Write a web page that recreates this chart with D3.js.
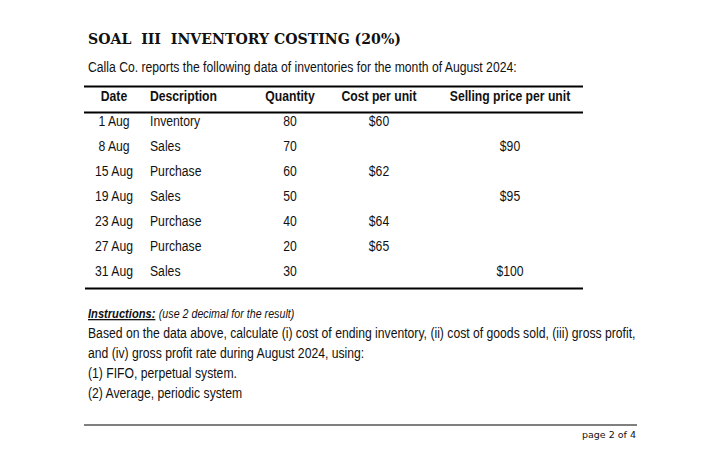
<!DOCTYPE html>
<html>
<head>
<meta charset="utf-8">
<script src="https://cdn.jsdelivr.net/npm/d3@7"></script>
<style>
  body { margin: 0; background: #fff; }
  svg { display: block; }
  .body { font-family: "Liberation Sans", Arial, sans-serif; fill: #111; }
</style>
</head>
<body>
<div id="page"></div>
<script>
// table data
const headers = ["Date", "Description", "Quantity", "Cost per unit", "Selling price per unit"];
const dates = ["1 Aug", "8 Aug", "15 Aug", "19 Aug", "23 Aug", "27 Aug", "31 Aug"];
const descriptions = ["Inventory", "Sales", "Purchase", "Sales", "Purchase", "Purchase", "Sales"];
const quantities = [80, 70, 60, 50, 40, 20, 30];
const costs = [60, null, 62, null, 64, 65, null];
const prices = [null, 90, null, 95, null, null, 100];

// page text
const title = "SOAL  III  INVENTORY COSTING (20%)";
const intro = "Calla Co. reports the following data of inventories for the month of August 2024:";
const instrHead = "Instructions:";
const instrNote = "(use 2 decimal for the result)";
const instrLines = [
    "Based on the data above, calculate (i) cost of ending inventory, (ii) cost of goods sold, (iii) gross profit,",
    "and (iv) gross profit rate during August 2024, using:",
    "(1) FIFO, perpetual system.",
    "(2) Average, periodic system"
];
const footer = "page 2 of 4";

const W = 720, H = 458;
const NARROW = 0.87; // no Arial Narrow here, so squeeze Liberation Sans
const FS = 14;

const svg = d3.select("#page").append("svg")
    .attr("width", W)
    .attr("height", H);

svg.append("rect").attr("width", W).attr("height", H).attr("fill", "#fff");

svg.append("text")
    .attr("x", 88).attr("y", 44)
    .attr("font-family", "'DejaVu Serif', 'Liberation Serif', serif")
    .attr("font-weight", "bold")
    .attr("font-size", 15.5)
    .attr("textLength", 313)
    .attr("lengthAdjust", "spacingAndGlyphs")
    .style("white-space", "pre")
    .attr("fill", "#111")
    .text(title);

svg.append("text")
    .attr("class", "body cond")
    .attr("x", 88).attr("y", 72)
    .attr("font-size", FS)
    .text(intro);

// columns
const cols = ["date", "desc", "qty", "cost", "price"];
const colX = d3.scaleOrdinal().domain(cols).range([114, 150, 290, 379, 510]);
const colAnchor = d3.scaleOrdinal().domain(cols).range(["middle", "start", "middle", "middle", "middle"]);

const rowY = d3.scalePoint().domain(d3.range(dates.length)).range([126, 276]);

const tbl = svg.append("g").attr("class", "body").attr("font-size", FS);

const rule = (x1, x2, y, w) => svg.append("line")
    .attr("x1", x1).attr("x2", x2).attr("y1", y).attr("y2", y)
    .attr("stroke", "#000").attr("stroke-width", w);

rule(84, 583, 86.5, 2);
rule(84, 583, 112.5, 2);
rule(85, 583, 288.5, 2);

tbl.selectAll("text.hd").data(headers).join("text")
    .attr("class", "hd cond")
    .attr("x", (d, i) => colX(cols[i]))
    .attr("y", 101)
    .attr("text-anchor", (d, i) => colAnchor(cols[i]))
    .attr("font-weight", "bold")
    .text(d => d);

const rows = dates.map((d, i) => ({
    date: d,
    desc: descriptions[i],
    qty: quantities[i],
    cost: costs[i] == null ? "" : "$" + costs[i],
    price: prices[i] == null ? "" : "$" + prices[i]
}));

const rowG = tbl.selectAll("g.row").data(rows).join("g")
    .attr("class", "row")
    .attr("transform", (d, i) => `translate(0,${rowY(i)})`);

rowG.selectAll("text").data(d => cols.map(c => ({ c, v: d[c] })).filter(d => d.v !== "")).join("text")
    .attr("class", "cond")
    .attr("x", d => colX(d.c))
    .attr("text-anchor", d => colAnchor(d.c))
    .text(d => d.v);

// instructions
const ins = svg.append("text").attr("class", "body cond")
    .attr("x", 88).attr("y", 318).attr("font-style", "italic");
ins.append("tspan")
    .attr("font-weight", "bold").attr("font-size", 13)
    .attr("text-decoration", "underline")
    .text(instrHead);
ins.append("tspan")
    .attr("font-size", 12.5).attr("dx", 4)
    .text(instrNote);

const lineY = d3.scalePoint().domain(d3.range(instrLines.length)).range([338, 398]);
svg.append("g").attr("class", "body").attr("font-size", FS)
    .selectAll("text").data(instrLines).join("text")
    .attr("class", "cond")
    .attr("x", 88)
    .attr("y", (d, i) => lineY(i))
    .text(d => d);

rule(84, 637, 425, 1);
svg.append("text")
    .attr("x", 636).attr("y", 438)
    .attr("text-anchor", "end")
    .attr("font-family", "'DejaVu Sans', Verdana, sans-serif")
    .attr("font-size", 9.5)
    .attr("fill", "#111")
    .text(footer);

// squeeze body text horizontally
svg.selectAll("text.cond").each(function() {
    const len = this.getComputedTextLength();
    d3.select(this)
        .attr("textLength", len * NARROW)
        .attr("lengthAdjust", "spacingAndGlyphs");
});
</script>
</body>
</html>
